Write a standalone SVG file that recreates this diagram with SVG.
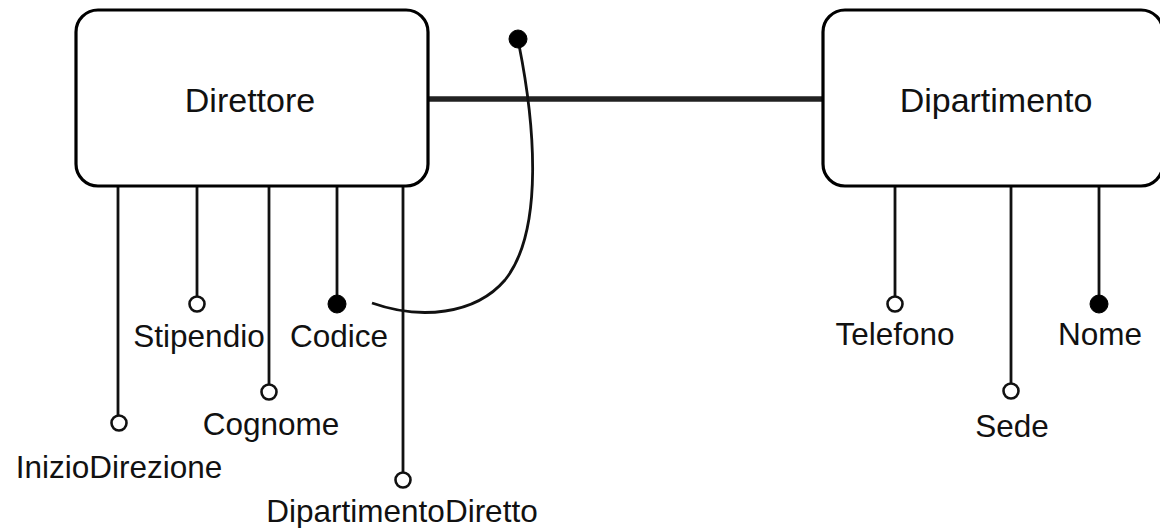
<svg xmlns="http://www.w3.org/2000/svg" width="1160" height="528" viewBox="0 0 1160 528">
<style>
.box{fill:#fff;stroke:#000;stroke-width:3.2}
.lbl{font-family:"Liberation Sans",Arial,sans-serif;font-size:34px;fill:#111;text-anchor:middle}
.al{font-family:"Liberation Sans",Arial,sans-serif;font-size:31.5px;fill:#111;text-anchor:middle}
.ln{stroke:#111;stroke-width:2.8;fill:none}
.open{fill:#fff;stroke:#111;stroke-width:2.6}
.full{fill:#000;stroke:#000;stroke-width:1}
</style>
<rect width="1160" height="528" fill="#fff"/>
<g id="connectors">
  <line x1="428" y1="99" x2="823" y2="99" stroke="#222" stroke-width="5.5"/>
  <line class="ln" x1="118" y1="186" x2="118" y2="415"/>
  <line class="ln" x1="197" y1="186" x2="197" y2="296"/>
  <line class="ln" x1="269" y1="186" x2="269" y2="384"/>
  <line class="ln" x1="337" y1="186" x2="337" y2="296"/>
  <line class="ln" x1="403" y1="186" x2="403" y2="472"/>
  <line class="ln" x1="895" y1="186" x2="895" y2="296"/>
  <line class="ln" x1="1011" y1="186" x2="1011" y2="383"/>
  <line class="ln" x1="1099" y1="186" x2="1099" y2="296"/>
  <path class="ln" d="M519 45 C534 120 545 230 505 280 C475 315 420 320 372 303" stroke-width="2.6"/>
  <circle class="full" cx="518" cy="39" r="9"/>
</g>
<g id="Direttore">
  <rect class="box" x="76" y="10" width="352" height="176" rx="22"/>
  <text class="lbl" x="250" y="112">Direttore</text>
</g>
<g id="Dipartimento">
  <rect class="box" x="823" y="10" width="340" height="176" rx="22"/>
  <text class="lbl" x="996" y="112">Dipartimento</text>
</g>
<g id="Stipendio">
  <circle class="open" cx="197" cy="304" r="7.5"/>
  <text class="al" x="199" y="347">Stipendio</text>
</g>
<g id="Codice">
  <circle class="full" cx="337" cy="304" r="9"/>
  <text class="al" x="339" y="347">Codice</text>
</g>
<g id="Cognome">
  <circle class="open" cx="269" cy="392" r="7.5"/>
  <text class="al" x="271" y="435">Cognome</text>
</g>
<g id="InizioDirezione">
  <circle class="open" cx="119" cy="423" r="7.5"/>
  <text class="al" x="119" y="478">InizioDirezione</text>
</g>
<g id="DipartimentoDiretto">
  <circle class="open" cx="403" cy="480" r="7.5"/>
  <text class="al" x="402" y="522">DipartimentoDiretto</text>
</g>
<g id="Telefono">
  <circle class="open" cx="895" cy="304" r="7.5"/>
  <text class="al" x="895" y="345">Telefono</text>
</g>
<g id="Nome">
  <circle class="full" cx="1099" cy="304" r="9"/>
  <text class="al" x="1100" y="345">Nome</text>
</g>
<g id="Sede">
  <circle class="open" cx="1011" cy="391" r="7.5"/>
  <text class="al" x="1012" y="437">Sede</text>
</g>
</svg>
